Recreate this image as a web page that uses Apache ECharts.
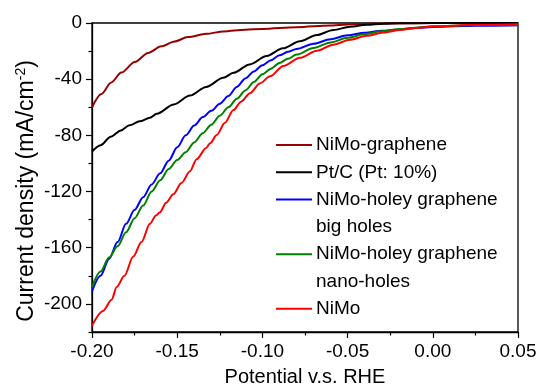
<!DOCTYPE html>
<html>
<head>
<meta charset="utf-8">
<script src="https://cdn.jsdelivr.net/npm/echarts@6/dist/echarts.min.js"></script>
<style>
html,body{margin:0;padding:0;background:#fff;}
#c{width:547px;height:392px;}
</style>
</head>
<body>
<div id="c"></div>
<script>
// ---- data (potential V vs RHE, current density mA/cm^2) ----
var nimoGraphene = [[-0.2,-60],[-0.1945,-50.5],[-0.1887,-42.3],[-0.1828,-35.3],[-0.1749,-27.8],[-0.1671,-21.3],[-0.1593,-16.6],[-0.1515,-13.1],[-0.1437,-10],[-0.1329,-7.7],[-0.123,-6],[-0.11,-4.8],[-0.1,-4.2],[-0.08,-3],[-0.06,-1.8],[-0.045,-0.8],[-0.03,-0.3],[0,0],[0.05,0]];
var ptC = [[-0.2,-91.5],[-0.195,-87],[-0.189,-81],[-0.183,-76.5],[-0.178,-72.8],[-0.172,-70],[-0.166,-67.5],[-0.162,-64.6],[-0.152,-58],[-0.1425,-51.7],[-0.133,-45.5],[-0.123,-39],[-0.117,-35.5],[-0.1075,-29.5],[-0.0975,-23.5],[-0.088,-18],[-0.078,-13],[-0.068,-8.5],[-0.0584,-5],[-0.0486,-2.6],[-0.0388,-1.3],[-0.029,-0.5],[-0.02,-0.2],[0,0],[0.05,0]];
var bigHoles = [[-0.2,-191],[-0.195,-180],[-0.19,-168],[-0.185,-156],[-0.18,-143],[-0.175,-133],[-0.17,-124],[-0.165,-115],[-0.16,-107],[-0.155,-98],[-0.15,-88.5],[-0.145,-80],[-0.14,-73],[-0.135,-67],[-0.13,-62.5],[-0.125,-57.5],[-0.12,-52],[-0.115,-45.5],[-0.11,-39.5],[-0.105,-34.5],[-0.1,-30],[-0.095,-26.5],[-0.09,-23],[-0.085,-20.5],[-0.08,-18.5],[-0.07,-14.8],[-0.06,-11.5],[-0.05,-8.8],[-0.04,-7],[-0.03,-5.6],[-0.02,-4.6],[-0.01,-3.5],[0,-2.8],[0.025,-2.0],[0.05,-1.6]];
var nanoHoles = [[-0.2,-188],[-0.195,-177],[-0.19,-167],[-0.185,-159],[-0.18,-149],[-0.175,-139],[-0.17,-130],[-0.165,-120],[-0.16,-112],[-0.155,-104],[-0.15,-97.5],[-0.145,-92],[-0.14,-85],[-0.135,-78.5],[-0.13,-72.5],[-0.125,-66],[-0.12,-60],[-0.115,-54],[-0.11,-48],[-0.105,-42],[-0.1,-36.5],[-0.095,-32.5],[-0.09,-28.5],[-0.085,-25.5],[-0.08,-22.5],[-0.07,-17.8],[-0.06,-13.8],[-0.05,-10.5],[-0.04,-7.9],[-0.03,-5.9],[-0.02,-4.5],[-0.01,-3.3],[0,-2.4],[0.025,-1.5],[0.05,-1.2]];
var nimo = [[-0.2,-215.5],[-0.1935,-205],[-0.1885,-197],[-0.1855,-188],[-0.181,-180],[-0.1758,-166.3],[-0.171,-156],[-0.166,-143],[-0.1625,-137],[-0.1601,-134.7],[-0.1565,-128],[-0.1523,-122],[-0.1475,-114],[-0.1425,-105.5],[-0.1386,-97],[-0.133,-89],[-0.1307,-85.6],[-0.1268,-79.8],[-0.122,-71],[-0.117,-62],[-0.1125,-56],[-0.1073,-50],[-0.1015,-43],[-0.0955,-38],[-0.0877,-30.6],[-0.078,-24.8],[-0.068,-19.8],[-0.0584,-15.4],[-0.0486,-12],[-0.0388,-9.1],[-0.029,-6.8],[-0.0193,-5],[-0.01,-3.6],[0,-2.5],[0.025,-1.3],[0.05,-0.9]];

var seriesNames = ['NiMo-graphene','Pt/C (Pt: 10%)','NiMo-holey graphene\nbig holes','NiMo-holey graphene\nnano-holes','NiMo'];
var seriesColors = ['#990000','#000000','#0000ff','#008000','#ff0000'];
var seriesData = [nimoGraphene, ptC, bigHoles, nanoHoles, nimo];

var yMajorTicks = [0,-40,-80,-120,-160,-200];
var yMinorTicks = [-20,-60,-100,-140,-180,-220];
var xTitle = 'Potential v.s. RHE';
var yTitle = 'Current density (mA/cm';
var yTitleSup = '-2';

var FONT = '"Liberation Sans", Arial, sans-serif';
var chart = echarts.init(document.getElementById('c'), null, {renderer:'canvas'});

var series = seriesData.map(function(d,i){
  return {
    name: seriesNames[i], type:'line', data:d, showSymbol:false, symbol:'none',
    smooth:0.3, smoothMonotone:'x',
    lineStyle:{color:seriesColors[i], width:2}, itemStyle:{color:seriesColors[i]},
    z: 2+i, animation:false
  };
});

// legend built from names/colors (icon aligned with first text line)
var legendG = [];
var row = 0, y0 = 145, lh = 27.3;
seriesNames.forEach(function(n,i){
  var yy = y0 + row*lh;
  legendG.push({type:'line', shape:{x1:276,y1:yy,x2:312,y2:yy}, style:{stroke:seriesColors[i], lineWidth:2}, z:100});
  var lines = n.split('\n');
  lines.forEach(function(t,k){
    legendG.push({type:'text', x:316, y:yy+k*lh, style:{text:t, font:'19px '+FONT, fill:'#000', textAlign:'left', textVerticalAlign:'middle'}, z:100});
  });
  row += lines.length;
});
legendG.push({
  type:'text', x:27, y:191, rotation:Math.PI/2,
  style:{text:'{a|'+yTitle+'}{s|'+yTitleSup+'}{a|)}', textAlign:'center', textVerticalAlign:'middle',
    rich:{a:{fontSize:23, fontFamily:FONT, fill:'#000', color:'#000'}, s:{fontSize:14, fontFamily:FONT, color:'#000', fill:'#000', verticalAlign:'top', padding:[0,0,11,0]}}},
  z:100
});

var option = {
  animation:false,
  backgroundColor:'#fff',
  grid:{left:92, right:29, top:23, bottom:56, show:true, borderColor:'#000', borderWidth:1.3, backgroundColor:'transparent'},
  xAxis:{
    type:'value', min:-0.2, max:0.05, interval:0.05,
    name:xTitle, nameLocation:'middle', nameGap:35,
    nameTextStyle:{fontSize:20, fontFamily:FONT, color:'#000'},
    axisLine:{onZero:false, lineStyle:{color:'#000', width:1.3}},
    axisTick:{show:true, inside:false, length:6, lineStyle:{color:'#000', width:1.2}},
    minorTick:{show:true, splitNumber:2, length:3.5, lineStyle:{color:'#000', width:1.2}},
    splitLine:{show:false}, minorSplitLine:{show:false},
    axisLabel:{fontSize:19, fontFamily:FONT, color:'#000', margin:10, showMinLabel:true, showMaxLabel:true,
      formatter:function(v){ return (Math.abs(v)<1e-9?0:v).toFixed(2); }}
  },
  yAxis:[{
    type:'value', min:-220, max:0,
    axisLine:{onZero:false, lineStyle:{color:'#000', width:1.3}},
    axisTick:{show:true, length:6, customValues:yMajorTicks, lineStyle:{color:'#000', width:1.2}},
    axisLabel:{fontSize:19, fontFamily:FONT, color:'#000', margin:10, customValues:yMajorTicks},
    splitLine:{show:false}
  },{
    type:'value', min:-220, max:0, position:'left', offset:0,
    axisLine:{show:false, onZero:false},
    axisTick:{show:true, length:3.5, customValues:yMinorTicks, lineStyle:{color:'#000', width:1.2}},
    axisLabel:{show:false}, splitLine:{show:false}
  }],
  series:series,
  graphic:legendG
};
chart.setOption(option);
</script>
</body>
</html>
